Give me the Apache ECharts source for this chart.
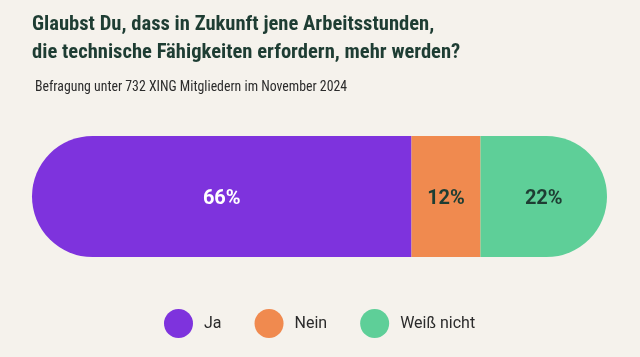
<!DOCTYPE html>
<html><head><meta charset="utf-8">
<script src="https://cdn.jsdelivr.net/npm/echarts@6/dist/echarts.min.js"></script>
<style>html,body{margin:0;padding:0;background:#f5f2ec;}#c{width:640px;height:357px;}</style>
</head><body><div id="c"></div>
<script>
const categories = ['Ja', 'Nein', 'Weiß nicht'];
const values = [66, 12, 22];
const colors = ['#7e33dd', '#f08a4f', '#5ecf98'];
const labelColors = ['#ffffff', '#1e3d33', '#1e3d33'];
const titleText = 'Glaubst Du, dass in Zukunft jene Arbeitsstunden,\ndie technische Fähigkeiten erfordern, mehr werden?';
const subtitleText = 'Befragung unter 732 XING Mitgliedern im November 2024';

const chart = echarts.init(document.getElementById('c'));
const n = values.length;
const series = categories.map((name, i) => ({
  name: name,
  type: 'bar',
  stack: 'total',
  barWidth: 121,
  data: [values[i]],
  itemStyle: {
    color: colors[i],
    borderRadius: i === 0 ? [61, 0, 0, 61] : (i === n - 1 ? [0, 61, 61, 0] : 0)
  },
  label: {
    show: true,
    position: 'inside',
    offset: [0, 2],
    formatter: '{c}%',
    color: labelColors[i],
    fontFamily: 'Roboto',
    fontWeight: 'bold',
    fontSize: 20
  },
  emphasis: { disabled: true }
}));

chart.setOption({
  backgroundColor: '#f5f2ec',
  animation: false,
  title: [{
    text: titleText,
    left: 27, top: 6,
    textStyle: { fontFamily: "'Roboto Condensed', 'Noto Sans Condensed', 'Open Sans Condensed', Roboto", fontWeight: 'bold', fontSize: 20.6, lineHeight: 28, color: '#1e3d33' }
  }, {
    text: subtitleText,
    left: 30, top: 76,
    textStyle: { fontFamily: "'Roboto Condensed', 'Noto Sans Condensed', 'DejaVu Sans Condensed'", fontWeight: 'normal', fontSize: 13.8, color: '#2b2b2b' }
  }],
  legend: {
    data: categories,
    left: 159, top: 304,
    icon: 'circle',
    itemWidth: 29, itemHeight: 29,
    itemGap: 33,
    textStyle: { fontFamily: 'Roboto', fontSize: 16, color: '#2b2b2b', padding: [0, 0, 0, 6] },
    selectedMode: false
  },
  grid: { left: 32, right: 33, top: 136, height: 121 },
  xAxis: { type: 'value', min: 0, max: 100, show: false },
  yAxis: { type: 'category', data: ['Antwort'], show: false },
  series: series
});
</script></body></html>
